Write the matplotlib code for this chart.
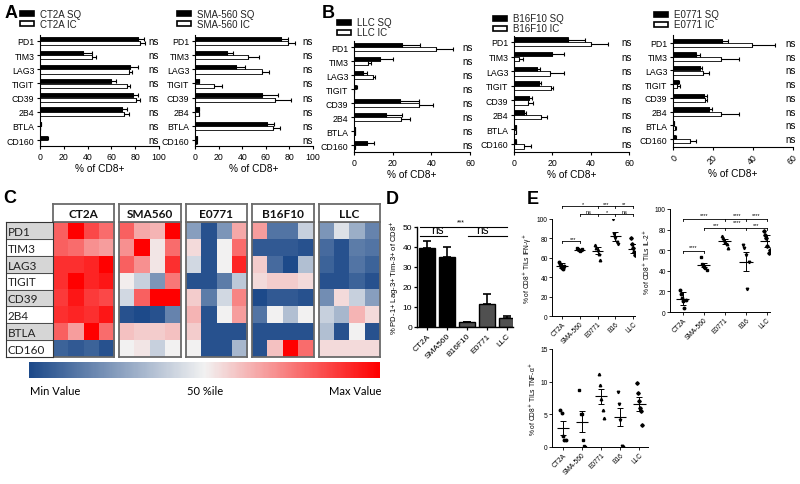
import numpy as np
import matplotlib
matplotlib.use('Agg')
import matplotlib.pyplot as plt
from matplotlib.colors import LinearSegmentedColormap
from matplotlib.patches import Rectangle

plt.rcParams['font.family'] = ['Liberation Sans', 'DejaVu Sans']

# ---------------- data ----------------
markers = ['PD1', 'TIM3', 'LAG3', 'TIGIT', 'CD39', '2B4', 'BTLA', 'CD160']

ct2a_sq = [82, 36, 76, 59.5, 78, 69, 0.5, 5.5]
ct2a_sq_err = [5, 8, 6, 4.5, 4, 4, 0, 1.5]
ct2a_ic = [84, 44, 75, 73, 81, 71, 0.3, 0.3]
ct2a_ic_err = [4, 3, 2, 3, 3, 4, 0, 0]

sma_sq = [73, 27, 35, 3, 57, 3, 61, 1.5]
sma_sq_err = [6, 5, 7, 0.5, 13, 0.5, 6, 0.3]
sma_ic = [79, 45, 57, 16, 68, 3, 66.5, 1]
sma_ic_err = [6, 9, 6, 7, 13, 0.5, 5.5, 0.3]

llc_sq = [25, 13.5, 4.7, 1, 24, 16.5, 0.5, 6.5]
llc_sq_err = [9, 6.5, 1.8, 0.3, 9.5, 8.5, 0, 4]
llc_ic = [42.5, 7.3, 9.7, 0, 33.5, 24.5, 0.3, 0.5]
llc_ic_err = [8.5, 1.7, 1.3, 0, 7.5, 4.5, 0, 0]

b16_sq = [28, 20, 12, 13, 7.8, 5, 1, 1]
b16_sq_err = [9, 6, 1.5, 1, 1.7, 1.5, 0.2, 0.3]
b16_ic = [40, 2.5, 19, 19.5, 7.5, 14, 1, 5]
b16_ic_err = [9, 2, 7, 1, 2.5, 3, 0.2, 4]

e07_sq = [24.5, 11.5, 13.5, 2.5, 15.5, 18, 0.5, 1]
e07_sq_err = [3, 2, 1, 0.5, 1.5, 1.5, 0.2, 0.3]
e07_ic = [39.5, 24, 15, 1.8, 16, 24, 1, 8.5]
e07_ic_err = [11.5, 9, 3, 1.7, 1, 9, 0.5, 3]

heat_blocks = ['CT2A', 'SMA560', 'E0771', 'B16F10', 'LLC']
heat_ct2a = [[0.6, 1.0, 0.7, 0.55], [0.6, 0.55, 0.4, 0.35], [0.8, 0.8, 0.85, 1.0],
             [0.8, 1.0, 0.85, 0.9], [0.75, 0.9, 0.75, 0.7], [0.8, 0.85, 0.8, 0.9],
             [0.6, 0.35, 1.0, 0.55], [-0.85, -0.9, -0.85, -0.95]]
heat_sma = [[0.6, 0.3, 0.25, 1.0], [0.4, 1.0, 0.05, 0.55], [0.6, 0.4, 0.05, 0.8],
            [0.02, -0.2, -0.55, 0.5], [-0.15, 0.6, 1.0, 1.0], [-0.95, -1.0, -0.95, -0.65],
            [0.2, 0.15, 0.15, 0.2], [0.0, 0.05, -0.2, 0.0]]
heat_e07 = [[-0.5, -0.95, -0.55, 0.3], [0.1, -0.95, 0.0, 0.55], [-0.15, -0.95, 0.0, 0.85],
            [-0.95, -0.95, -0.7, -0.25], [0.15, -0.7, -0.15, 0.45], [0.25, -0.95, 0.0, 0.35],
            [0.15, -0.95, -0.95, -0.95], [0.0, -0.95, -0.95, -0.35]]
heat_b16 = [[0.35, -0.75, -0.75, -0.2], [-0.9, -0.9, -0.9, -0.95], [0.15, -0.8, -1.0, -0.3],
            [0.1, 0.15, 0.15, 0.1], [-1.0, -0.9, -0.9, -0.95], [-0.75, 0.0, -0.3, 0.0],
            [-0.95, -0.95, -0.95, -0.95], [-0.95, 0.2, 1.0, 0.55]]
heat_llc = [[-0.55, -0.1, -0.4, -0.65], [-0.8, -0.95, -0.7, -0.75], [-0.85, -0.95, -0.75, -0.85],
            [-0.95, -0.95, -0.85, -0.95], [-0.6, 0.1, -0.2, -0.5], [-0.2, -0.35, 0.25, 0.1],
            [-0.3, -0.95, 0.0, -0.95], [0.1, 0.1, 0.1, 0.1]]

d_cats = ['CT2A', 'SMA560', 'B16F10', 'E0771', 'LLC']
d_vals = [39.5, 35, 2.5, 11.5, 4.5]
d_err = [3.5, 5, 0, 5, 1]

e_cats = ['CT2A', 'SMA-560', 'E0771', 'B16', 'LLC']
ifn_pts = [[56, 54, 51, 49, 48, 52], [70, 69, 68, 67, 68, 69], [73, 70, 68, 64, 58],
           [100, 85, 80, 76, 74], [80, 74, 70, 66, 63, 65]]
ifn_mean = [52, 68, 67.5, 82, 69.5]
ifn_sem = [2.5, 1, 4, 5, 4.5]
il2_pts = [[21, 17, 14, 11, 4, 12], [53, 47, 46, 44, 43, 41], [74, 72, 70, 68, 66, 62],
           [65, 62, 55, 22, 49], [79, 75, 72, 64, 57, 60]]
il2_mean = [13, 45.5, 68.5, 49, 69]
il2_sem = [6, 2, 2.5, 9, 6]
tnf_pts = [[5.6, 5.2, 1.7, 1.1, 1.1], [8.7, 5.1, 5.0, 1.0, 0.1, 0.0], [11.1, 9.5, 7.4, 5.7, 4.4],
           [8.4, 6.6, 4.2, 0.1, 0.0], [9.8, 8.2, 7.0, 5.9, 5.5, 3.4]]
tnf_mean = [2.9, 3.9, 7.8, 4.6, 6.6]
tnf_sem = [1.05, 1.6, 1.15, 1.35, 1.05]

# ---------------- figure ----------------
W, H = 800, 485
fig = plt.figure(figsize=(8, 4.85), dpi=100)


def add_ax(x0, y0, x1, y1):
    return fig.add_axes([x0 / W, 1 - y1 / H, (x1 - x0) / W, (y1 - y0) / H])


def ftext(x, y, s, **kw):
    fig.text(x / W, 1 - y / H, s, **kw)


def frect(x0, y0, x1, y1, fc):
    fig.add_artist(Rectangle((x0 / W, 1 - y1 / H), (x1 - x0) / W, (y1 - y0) / H,
                             transform=fig.transFigure, facecolor=fc, edgecolor='black',
                             linewidth=1.2))


def bar_panel(box, ylim, sq, sq_e, ic, ic_e, xmax, ns_x, rot=0):
    ax = add_ax(*box)
    y = np.arange(len(markers))
    ax.barh(y - 0.16, sq, 0.3, color='black', edgecolor='black', linewidth=0.6)
    ax.barh(y + 0.16, ic, 0.3, color='white', edgecolor='black', linewidth=0.6)
    z = np.zeros(len(markers))
    ax.errorbar(sq, y - 0.16, xerr=[z, sq_e], fmt='none', ecolor='black',
                elinewidth=0.8, capsize=1.6, capthick=0.8)
    ax.errorbar(ic, y + 0.16, xerr=[z, ic_e], fmt='none', ecolor='black',
                elinewidth=0.8, capsize=1.6, capthick=0.8)
    ax.set_xlim(0, xmax)
    ax.set_ylim(*ylim)
    ax.set_yticks(y)
    ax.set_yticklabels(markers, fontsize=6.3)
    ax.set_xticks(np.arange(0, xmax + 1, 20))
    ax.tick_params(axis='x', labelsize=6.3, length=2.5, width=0.8, pad=1.5,
                   labelrotation=rot)
    ax.tick_params(axis='y', length=2.5, width=0.8, pad=1.5)
    if rot:
        for t in ax.get_xticklabels():
            t.set_ha('right'); t.set_rotation_mode('anchor')
    for s in ['top', 'right']:
        ax.spines[s].set_visible(False)
    for s in ['left', 'bottom']:
        ax.spines[s].set_linewidth(0.8)
    for yi in y:
        ax.text(ns_x, yi, 'ns', fontsize=7, va='center', ha='left', clip_on=False)
    ax.set_xlabel('% of CD8+', fontsize=7.3, labelpad=1.5)
    return ax


# Panel A
bar_panel((40, 36, 159, 147), (7.42, -0.42), ct2a_sq, ct2a_sq_err, ct2a_ic, ct2a_ic_err, 100, 91)
bar_panel((195, 36, 313, 147), (7.42, -0.42), sma_sq, sma_sq_err, sma_ic, sma_ic_err, 100, 91)
# Panel B
bar_panel((354, 42, 470, 153), (7.5, -0.43), llc_sq, llc_sq_err, llc_ic, llc_ic_err, 60, 56)
bar_panel((514, 37, 629, 153), (7.55, -0.41), b16_sq, b16_sq_err, b16_ic, b16_ic_err, 60, 56)
bar_panel((673, 36, 793, 148), (7.57, -0.58), e07_sq, e07_sq_err, e07_ic, e07_ic_err, 60, 56, rot=45)

# legends
for (bx, by, name) in [(20, 12, 'CT2A'), (177, 12, 'SMA-560'), (337, 21, 'LLC'),
                       (493, 17, 'B16F10'), (654, 13, 'E0771')]:
    frect(bx, by, bx + 14, by + 5, 'black')
    frect(bx, by + 10, bx + 14, by + 15, 'white')
    ftext(bx + 20, by + 2.5, name + ' SQ', fontsize=7, va='center', ha='left', color='#222222')
    ftext(bx + 20, by + 12.5, name + ' IC', fontsize=7, va='center', ha='left', color='#222222')

# panel letters
for (lx, ly, L) in [(11, 14, 'A'), (328, 13, 'B'), (10, 199, 'C'), (392, 200, 'D'), (533, 200, 'E')]:
    ftext(lx, ly, L, fontsize=13, fontweight='bold', ha='center', va='center')

# ---------------- Panel C heatmap ----------------
cmap = LinearSegmentedColormap.from_list('bwr2', ['#1d4a8a', '#f2f2f2', '#ff0000'])
block_x = [(53, 114), (119, 181), (186, 247), (252, 314), (319, 380)]
heat_data = [heat_ct2a, heat_sma, heat_e07, heat_b16, heat_llc]
edge = '#6a6a6a'
for name, (x0, x1), data in zip(heat_blocks, block_x, heat_data):
    ax = add_ax(x0, 223, x1, 358)
    ax.imshow(np.array(data), cmap=cmap, vmin=-1, vmax=1, aspect='auto', interpolation='nearest')
    ax.set_xticks([]); ax.set_yticks([])
    for s in ax.spines.values():
        s.set_color(edge); s.set_linewidth(1.3)
    hx = add_ax(x0, 205, x1, 223)
    hx.set_xticks([]); hx.set_yticks([])
    for s in hx.spines.values():
        s.set_color(edge); s.set_linewidth(1.3)
    hx.text(0.5, 0.45, name, ha='center', va='center', fontsize=8.5, fontweight='bold',
            family=['Lato', 'DejaVu Sans'], color='#111111')

rl = add_ax(6, 223, 53, 358)
rl.set_xlim(0, 1); rl.set_ylim(8, 0)
for i, m in enumerate(markers):
    if i % 2 == 0:
        rl.axhspan(i, i + 1, color='#d6d6d6')
    rl.text(0.04, i + 0.55, m, fontsize=8.5, va='center', ha='left',
            family=['Lato', 'DejaVu Sans'], color='#222222')
rl.hlines(np.arange(1, 8), 0, 1, color='#333333', linewidth=0.6)
rl.set_xticks([]); rl.set_yticks([])
for s in rl.spines.values():
    s.set_color('#333333'); s.set_linewidth(0.8)

cb = add_ax(29, 363, 380, 379)
cb.imshow(np.linspace(-1, 1, 300)[None, :], cmap=cmap, vmin=-1, vmax=1, aspect='auto')
cb.set_xticks([]); cb.set_yticks([])
for s in cb.spines.values():
    s.set_visible(False)
ftext(30, 392, 'Min Value', fontsize=8, ha='left', va='center', family=['Lato', 'DejaVu Sans'])
ftext(205, 392, '50 %ile', fontsize=8, ha='center', va='center', family=['Lato', 'DejaVu Sans'])
ftext(381, 392, 'Max Value', fontsize=8, ha='right', va='center', family=['Lato', 'DejaVu Sans'])

# ---------------- Panel D ----------------
axD = add_ax(417, 228, 513, 328)
xD = np.arange(len(d_cats))
axD.bar(xD, d_vals, 0.8, color=['black', 'black', '#505050', '#505050', '#505050'],
        edgecolor='black', linewidth=1)
axD.errorbar(xD, d_vals, yerr=[np.zeros(5), d_err], fmt='none', ecolor='black',
             elinewidth=1.2, capsize=3, capthick=1.2)
axD.set_xlim(-0.5, 4.3); axD.set_ylim(0, 50)
axD.set_yticks(np.arange(0, 51, 10))
axD.set_xticks(xD)
axD.set_xticklabels(d_cats, rotation=45, ha='right', rotation_mode='anchor')
axD.tick_params(labelsize=6, length=2.5, width=0.9, pad=1)
for s in ['top', 'right']:
    axD.spines[s].set_visible(False)
for s in ['left', 'bottom']:
    axD.spines[s].set_linewidth(1)
axD.set_ylabel('% PD-1+ Lag-3+ Tim-3+ of CD8$^{+}$', fontsize=5.5, labelpad=1)
axD.plot([-0.35, 4.0], [50, 50], color='black', lw=0.8, clip_on=False)
axD.text(1.7, 51, '***', fontsize=5, ha='center', va='bottom')
axD.plot([-0.35, 1.0], [45.5, 45.5], color='black', lw=0.8, clip_on=False)
axD.text(0.5, 45.7, 'ns', fontsize=8.5, ha='center', va='bottom')
axD.plot([2.05, 4.0], [45.5, 45.5], color='black', lw=0.8, clip_on=False)
axD.text(2.75, 45.7, 'ns', fontsize=8.5, ha='center', va='bottom')

# ---------------- Panel E ----------------
mks = ['o', 's', '^', 'v', 'D']


def dot_panel(box, xlim, ylim, yticks, pts, means, sems, ylabel):
    ax = add_ax(*box)
    for i, p in enumerate(pts):
        offs = np.linspace(-0.14, 0.14, len(p))
        ax.plot(i + offs, p, ls='none', marker=mks[i], ms=1.8, color='black')
        ax.hlines(means[i], i - 0.32, i + 0.32, color='black', lw=0.8)
        ax.errorbar(i, means[i], yerr=sems[i], fmt='none', ecolor='black', elinewidth=0.7,
                    capsize=2.2, capthick=0.7)
    ax.set_xlim(*xlim); ax.set_ylim(*ylim)
    ax.set_yticks(yticks)
    ax.set_xticks(np.arange(len(e_cats)))
    ax.set_xticklabels(e_cats, rotation=45, ha='right', rotation_mode='anchor')
    ax.tick_params(labelsize=4.8, length=2, width=0.6, pad=1)
    for s in ['top', 'right']:
        ax.spines[s].set_visible(False)
    for s in ['left', 'bottom']:
        ax.spines[s].set_linewidth(0.7)
    ax.set_ylabel(ylabel, fontsize=4.8, labelpad=2)
    return ax


def bracket(ax, x0, x1, y, ticks=()):
    ax.plot([x0, x1], [y, y], color='black', lw=0.6, clip_on=False)
    for t in ticks:
        ax.plot([t, t], [y, y - 2], color='black', lw=0.6, clip_on=False)


def star(ax, x, y, s):
    ax.text(x, y, s, fontsize=4, ha='center', va='bottom', clip_on=False)


e1 = dot_panel((552, 220, 635, 317), (-0.56, 4.1), (0, 100), np.arange(0, 101, 20),
               ifn_pts, ifn_mean, ifn_sem, '% of CD8$^{+}$ TILs IFN-γ$^{+}$')
bracket(e1, 0, 4, 113, ticks=(0, 2, 3, 4))
star(e1, 1.2, 113.5, '*'); star(e1, 2.5, 113.5, '***'); star(e1, 3.5, 113.5, '**')
bracket(e1, 1, 4, 105, ticks=(1, 2, 3, 4))
star(e1, 1.5, 105.5, 'ns'); star(e1, 2.5, 105.5, '*'); star(e1, 3.5, 105.5, 'ns')
bracket(e1, 0, 1, 77, ticks=(0, 1))
star(e1, 0.65, 77, '***')

e2 = dot_panel((670, 210, 770, 313), (-0.6, 4.15), (0, 100), np.arange(0, 101, 20),
               il2_pts, il2_mean, il2_sem, '% of CD8$^{+}$ TILs IL-2$^{+}$')
bracket(e2, 0, 4, 90, ticks=(0, 2, 3, 4))
star(e2, 1.0, 92, '****'); star(e2, 2.6, 92, '****'); star(e2, 3.5, 92, '****')
bracket(e2, 1, 4, 82, ticks=(1, 2, 3, 4))
star(e2, 1.6, 82.5, '***'); star(e2, 2.6, 85, '****'); star(e2, 3.5, 82.5, '***')
bracket(e2, 0, 1, 59, ticks=(0, 1))
star(e2, 0.5, 61, '****')

e3 = dot_panel((552, 350, 648, 448), (-0.58, 4.45), (0, 15), [0, 5, 10, 15],
               tnf_pts, tnf_mean, tnf_sem, '% of CD8$^{+}$ TILs TNF-α$^{+}$')

fig.savefig('out.png', dpi=100)
